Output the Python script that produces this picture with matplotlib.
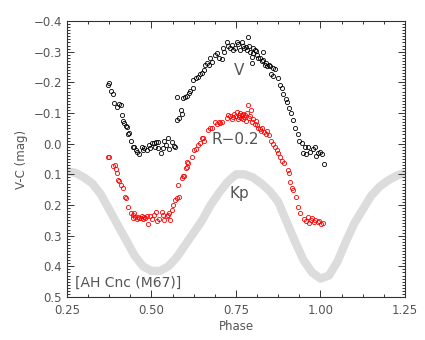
import matplotlib

matplotlib.use("Agg")
import matplotlib.pyplot as plt
from matplotlib.ticker import MultipleLocator, FuncFormatter

# Kp light curve
kp_phase = [0.25, 0.275, 0.30, 0.325, 0.35, 0.375, 0.40, 0.425, 0.45, 0.475,
            0.50, 0.525, 0.55, 0.575, 0.60, 0.625, 0.65, 0.675, 0.70, 0.725,
            0.75, 0.775, 0.80, 0.825, 0.85, 0.875, 0.90, 0.925, 0.95, 0.975,
            1.00, 1.025, 1.05, 1.075, 1.10, 1.125, 1.15, 1.175, 1.20, 1.225, 1.25]
kp_mag = [0.09, 0.095, 0.11, 0.13, 0.165, 0.215, 0.265, 0.315, 0.365, 0.40,
          0.415, 0.415, 0.40, 0.37, 0.33, 0.29, 0.25, 0.20, 0.16, 0.125,
          0.10, 0.10, 0.11, 0.13, 0.155, 0.19, 0.255, 0.32, 0.38, 0.42,
          0.44, 0.43, 0.385, 0.32, 0.26, 0.215, 0.17, 0.14, 0.12, 0.105, 0.095]

# V band
v_phase = [0.370, 0.374, 0.379, 0.387, 0.390, 0.397, 0.405, 0.409, 0.412, 0.417,
           0.420, 0.425, 0.427, 0.431, 0.434, 0.439, 0.446, 0.449, 0.453, 0.457,
           0.464, 0.471, 0.476, 0.479, 0.486, 0.493, 0.496, 0.501, 0.506, 0.511,
           0.513, 0.518, 0.520, 0.528, 0.533, 0.538, 0.542, 0.550, 0.553, 0.561,
           0.567, 0.570, 0.576, 0.582, 0.576, 0.588, 0.591, 0.594, 0.599, 0.604,
           0.611, 0.614, 0.622, 0.624, 0.631, 0.638, 0.645, 0.650, 0.656, 0.658,
           0.665, 0.671, 0.673, 0.678, 0.688, 0.693, 0.701, 0.708, 0.711, 0.716,
           0.722, 0.727, 0.732, 0.737, 0.742, 0.747, 0.752, 0.757, 0.762, 0.767,
           0.770, 0.774, 0.780, 0.783, 0.786, 0.789, 0.791, 0.796, 0.796, 0.799,
           0.801, 0.806, 0.809, 0.813, 0.816, 0.821, 0.826, 0.829, 0.831, 0.836,
           0.840, 0.843, 0.847, 0.851, 0.855, 0.859, 0.860, 0.866, 0.875, 0.880,
           0.885, 0.890, 0.898, 0.901, 0.908, 0.912, 0.918, 0.925, 0.934, 0.937,
           0.944, 0.949, 0.954, 0.958, 0.964, 0.968, 0.978, 0.983, 0.986, 0.994,
           0.999, 1.004, 1.009]
v_mag = [-0.190, -0.199, -0.173, -0.162, -0.132, -0.121, -0.129, -0.125, -0.094, -0.075,
         -0.068, -0.058, -0.053, -0.032, -0.036, -0.009, 0.010, 0.012, 0.021, 0.026,
         0.034, 0.012, 0.021, 0.013, 0.021, 0.004, 0.015, -0.001, -0.002, 0.012,
         -0.007, 0.015, -0.007, 0.029, 0.015, -0.010, 0.005, -0.017, 0.018, -0.007,
         0.008, 0.012, -0.078, -0.083, -0.151, -0.110, -0.097, -0.148, -0.153, -0.156,
         -0.164, -0.171, -0.181, -0.208, -0.213, -0.216, -0.226, -0.231, -0.240, -0.257,
         -0.262, -0.255, -0.278, -0.267, -0.289, -0.294, -0.280, -0.276, -0.311, -0.300,
         -0.330, -0.318, -0.311, -0.322, -0.305, -0.313, -0.330, -0.326, -0.305, -0.332,
         -0.318, -0.311, -0.316, -0.306, -0.349, -0.320, -0.298, -0.284, -0.262, -0.311,
         -0.295, -0.306, -0.302, -0.290, -0.280, -0.278, -0.268, -0.300, -0.273, -0.257,
         -0.262, -0.252, -0.258, -0.252, -0.226, -0.246, -0.222, -0.244, -0.213, -0.191,
         -0.180, -0.161, -0.145, -0.137, -0.117, -0.101, -0.077, -0.052, -0.030, -0.009,
         -0.001, 0.031, 0.010, 0.035, 0.010, 0.027, 0.016, 0.010, 0.039, 0.031,
         0.026, 0.034, 0.067]

# R band (already shifted by -0.2)
r_phase = [0.372, 0.375, 0.385, 0.392, 0.394, 0.397, 0.402, 0.405, 0.409, 0.417,
           0.422, 0.425, 0.431, 0.438, 0.444, 0.446, 0.448, 0.452, 0.456, 0.460,
           0.464, 0.468, 0.471, 0.474, 0.478, 0.481, 0.486, 0.490, 0.496, 0.501,
           0.506, 0.513, 0.517, 0.523, 0.530, 0.535, 0.537, 0.545, 0.550, 0.553,
           0.555, 0.560, 0.565, 0.570, 0.575, 0.579, 0.582, 0.590, 0.592, 0.596,
           0.602, 0.604, 0.606, 0.609, 0.619, 0.626, 0.632, 0.639, 0.644, 0.649,
           0.653, 0.656, 0.668, 0.673, 0.678, 0.688, 0.694, 0.699, 0.704, 0.709,
           0.722, 0.727, 0.732, 0.737, 0.742, 0.745, 0.750, 0.752, 0.755, 0.758,
           0.760, 0.763, 0.766, 0.768, 0.770, 0.772, 0.775, 0.778, 0.781, 0.784,
           0.786, 0.789, 0.792, 0.795, 0.798, 0.800, 0.805, 0.809, 0.812, 0.815,
           0.820, 0.825, 0.828, 0.833, 0.838, 0.843, 0.848, 0.855, 0.860, 0.866,
           0.870, 0.875, 0.880, 0.887, 0.892, 0.903, 0.907, 0.909, 0.916, 0.920,
           0.927, 0.934, 0.939, 0.952, 0.957, 0.962, 0.966, 0.972, 0.976, 0.980,
           0.985, 0.992, 0.997, 1.003, 1.008]
r_mag = [0.042, 0.045, 0.072, 0.070, 0.083, 0.097, 0.118, 0.123, 0.135, 0.146,
         0.173, 0.178, 0.205, 0.227, 0.232, 0.243, 0.225, 0.240, 0.245, 0.240,
         0.243, 0.241, 0.237, 0.245, 0.240, 0.243, 0.237, 0.263, 0.237, 0.245,
         0.234, 0.222, 0.251, 0.245, 0.222, 0.234, 0.249, 0.237, 0.234, 0.226,
         0.249, 0.216, 0.200, 0.184, 0.178, 0.135, 0.173, 0.113, 0.107, 0.104,
         0.078, 0.075, 0.059, 0.064, 0.042, 0.021, 0.016, 0.004, -0.002, -0.019,
         -0.020, -0.008, -0.045, -0.050, -0.050, -0.071, -0.065, -0.071, -0.066, -0.071,
         -0.085, -0.094, -0.089, -0.080, -0.086, -0.097, -0.090, -0.102, -0.082, -0.095,
         -0.088, -0.100, -0.085, -0.092, -0.080, -0.098, -0.087, -0.093, -0.075, -0.099,
         -0.126, -0.083, -0.090, -0.110, -0.070, -0.080, -0.065, -0.074, -0.060, -0.050,
         -0.048, -0.042, -0.052, -0.038, -0.030, -0.040, -0.028, -0.010, 0.002, 0.012,
         0.020, 0.030, 0.042, 0.058, 0.064, 0.085, 0.095, 0.125, 0.145, 0.150,
         0.175, 0.205, 0.227, 0.245, 0.252, 0.240, 0.258, 0.250, 0.244, 0.255,
         0.248, 0.257, 0.253, 0.262, 0.258]

txt = "#555555"

fig = plt.figure(figsize=(4.25, 3.4), dpi=100)
ax = fig.add_axes([0.1576, 0.1265, 0.7953, 0.8118])

ax.plot(kp_phase, kp_mag, color="#dcdcdc", lw=6, solid_capstyle="butt", zorder=1)
ax.plot(v_phase, v_mag, "o", mfc="none", mec="black", ms=3.0, mew=0.6, zorder=3)
ax.plot(r_phase, r_mag, "o", mfc="none", mec="red", ms=3.0, mew=0.6, zorder=3)

ax.set_xlim(0.25, 1.25)
ax.set_ylim(0.5, -0.4)
ax.xaxis.set_major_locator(MultipleLocator(0.25))
ax.xaxis.set_minor_locator(MultipleLocator(0.0625))
ax.yaxis.set_major_locator(MultipleLocator(0.1))
ax.yaxis.set_minor_locator(MultipleLocator(0.01))
ax.xaxis.set_major_formatter(FuncFormatter(lambda v, p: "%.2f" % v))
ax.yaxis.set_major_formatter(FuncFormatter(lambda v, p: ("%.1f" % v).replace("-", "\u2212")))
ax.tick_params(which="both", direction="in", top=True, right=True,
               color="#333333", labelcolor=txt, labelsize=8.5, width=0.7)
ax.tick_params(which="major", length=5)
ax.tick_params(which="minor", length=2.5)
ax.tick_params(axis="x", pad=5)
for s in ax.spines.values():
    s.set_color("#333333")
    s.set_linewidth(0.8)

ax.set_xlabel("Phase", color=txt, fontsize=8.5, labelpad=2)
ax.set_ylabel("V-C (mag)", color=txt, fontsize=8.5, labelpad=4)

ax.text(0.76, -0.24, "V", color=txt, fontsize=11, ha="center", va="center")
ax.text(0.748, -0.012, "R\u22120.2", color=txt, fontsize=11, ha="center", va="center")
ax.text(0.76, 0.162, "Kp", color=txt, fontsize=11, ha="center", va="center")
ax.text(0.274, 0.455, "[AH Cnc (M67)]", color=txt, fontsize=10, ha="left", va="center")

plt.savefig("out.png", dpi=100)
